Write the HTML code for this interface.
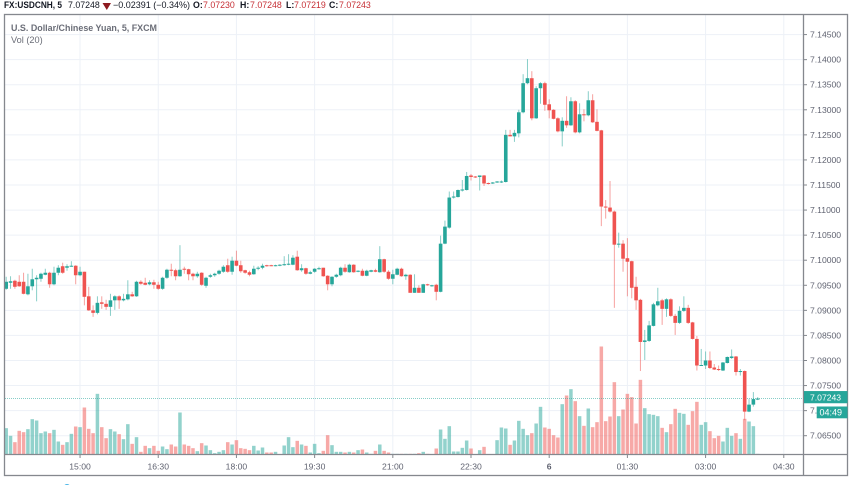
<!DOCTYPE html>
<html lang="en">
<head>
<meta charset="utf-8">
<title>USDCNH chart</title>
<style>
html,body{margin:0;padding:0;background:#fff;width:852px;height:485px;overflow:hidden}
svg{display:block;filter:blur(.35px)}
text{font-family:"Liberation Sans",sans-serif}
.tick{font-size:8.6px;fill:#5f6270}
.hd{font-size:8.8px;fill:#131722}
.hv{font-size:8.8px;fill:#c62f35}
</style>
</head>
<body>
<svg id="chart" width="852" height="485" viewBox="0 0 852 485" xmlns="http://www.w3.org/2000/svg">
  <defs><clipPath id="plot-clip"><rect x="5" y="15" width="798" height="439.5"/></clipPath></defs>
  <rect x="0" y="0" width="852" height="485" fill="#ffffff"/>
  <g id="grid"></g>
  <g id="vols" clip-path="url(#plot-clip)"></g>
  <line id="priceLine" x1="5" x2="803" stroke="#26a69a" stroke-width="1" stroke-dasharray="1 1" opacity=".55"/>
  <g id="candles" clip-path="url(#plot-clip)"></g>

  <g fill="none" stroke="#85888e" stroke-width="1.3">
    <rect x="4.5" y="14.5" width="843" height="461"/>
    <line x1="803.5" x2="803.5" y1="14.5" y2="475.5"/>
    <line x1="4.5" x2="847.5" y1="454.5" y2="454.5"/>
  </g>
  <g id="priceAxis"></g>
  <g id="timeAxis"></g>

  <g>
    <text class="hd" x="4" y="8" font-weight="bold" textLength="58" lengthAdjust="spacingAndGlyphs">FX:USDCNH, 5</text>
    <text class="hd" x="68" y="8">7.07248</text>
    <polygon points="102.5,3 111,3 106.8,10" fill="#8e1a1f"/>
    <text class="hd" x="113" y="8" textLength="77" lengthAdjust="spacingAndGlyphs">−0.02391 (−0.34%)</text>
    <text class="hd" x="193" y="8" font-weight="bold">O:</text>
    <text class="hv" x="203" y="8">7.07230</text>
    <text class="hd" x="240" y="8" font-weight="bold">H:</text>
    <text class="hv" x="250" y="8">7.07248</text>
    <text class="hd" x="286" y="8" font-weight="bold">L:</text>
    <text class="hv" x="294" y="8">7.07219</text>
    <text class="hd" x="329" y="8" font-weight="bold">C:</text>
    <text class="hv" x="339" y="8">7.07243</text>
  </g>

  <text x="11" y="31" font-size="9.2" font-weight="bold" fill="#6b6e78" textLength="146" lengthAdjust="spacingAndGlyphs">U.S. Dollar/Chinese Yuan, 5, FXCM</text>
  <text x="11" y="43" font-size="9.2" fill="#6b6e78">Vol (20)</text>

  <g>
    <rect id="priceBadge" x="804" width="43.5" height="12.2" fill="#26a69a"/>
    <text id="priceBadgeText" x="810" font-size="8.6" fill="#ffffff">7.07243</text>
  </g>
  <g>
    <rect x="816.7" y="406.5" width="30.8" height="11.8" fill="#26a69a"/>
    <text x="819.5" y="415.6" font-size="9" fill="#ffffff">04:49</text>
  </g>
  <circle cx="67" cy="487.5" r="3.5" fill="#45b4e6"/>
</svg>
<script>
const priceTicks = ["7.14500","7.14000","7.13500","7.13000","7.12500","7.12000","7.11500","7.11000","7.10500","7.10000","7.09500","7.09000","7.08500","7.08000","7.07500","7.07000","7.06500"];
const timeTicks = ["15:00","16:30","18:00","19:30","21:00","22:30","6","01:30","03:00","04:30"];
const timeTickBars = [17,35,53,71,89,107,125,143,161,179];
const lastPrice = 7.07243;

const opens = [7.0943,7.0955,7.0959,7.0957,7.0957,7.0932,7.0948,7.0962,7.0963,7.0971,
7.0975,7.0952,7.0975,7.0988,7.0985,7.0987,7.0989,7.0970,7.0977,7.0928,
7.0900,7.0895,7.0916,7.0913,7.0907,7.0920,7.0928,7.0920,7.0922,7.0932,
7.0928,7.0957,7.0955,7.0952,7.0956,7.0951,7.0943,7.0965,7.0981,7.0980,
7.0968,7.0983,7.0982,7.0973,7.0968,7.0975,7.0949,7.0967,7.0970,7.0973,
7.0977,7.0990,7.0977,7.0999,7.0990,7.0980,7.0976,7.0972,7.0983,7.0985,
7.0990,7.0990,7.0989,7.0989,7.0990,7.0991,7.0991,7.1007,7.0980,7.0984,
7.0973,7.0977,7.0982,7.0985,7.0969,7.0952,7.0967,7.0970,7.0985,7.0976,
7.0991,7.0977,7.0979,7.0969,7.0977,7.0980,7.0976,7.1002,7.0977,7.0963,
7.0971,7.0983,7.0968,7.0971,7.0935,7.0945,7.0935,7.0952,7.0948,7.0951,
7.0937,7.1033,7.1065,7.1125,7.1126,7.1139,7.1140,7.1169,7.1167,7.1166,
7.1169,7.1154,7.1153,7.1155,7.1155,7.1156,7.1250,7.1247,7.1253,7.1295,
7.1353,7.1363,7.1283,7.1343,7.1353,7.1311,7.1300,7.1283,7.1257,7.1278,
7.1269,7.1317,7.1255,7.1291,7.1289,7.1319,7.1276,7.1259,7.1107,7.1105,
7.1097,7.1031,7.1033,7.1004,7.0998,7.0947,7.0921,7.0837,7.0839,7.0869,
7.0910,7.0920,7.0903,7.0922,7.0889,7.0875,7.0899,7.0905,7.0876,7.0843,
7.0790,7.0790,7.0800,7.0786,7.0783,7.0780,7.0795,7.0805,7.0808,7.0777,
7.0779,7.0698,7.0712,7.0723];
const highs = [7.0967,7.0968,7.0961,7.0970,7.0975,7.0973,7.0983,7.0970,7.0975,7.0983,
7.0977,7.0987,7.0990,7.0995,7.0992,7.0998,7.0990,7.0987,7.0977,7.0947,
7.0910,7.0928,7.0928,7.0921,7.0933,7.0930,7.0930,7.0933,7.0960,7.0937,
7.0959,7.0960,7.0965,7.0960,7.0961,7.0957,7.0967,7.0983,7.0993,7.0983,
7.1030,7.0987,7.0983,7.0975,7.0977,7.0976,7.0967,7.0973,7.0975,7.0981,
7.0990,7.1003,7.1007,7.1019,7.0999,7.0981,7.0979,7.0989,7.0988,7.0993,
7.0991,7.0991,7.0991,7.0992,7.1008,7.1012,7.1010,7.1019,7.0992,7.0985,
7.0979,7.0984,7.0987,7.0985,7.0970,7.0968,7.0973,7.0987,7.0992,7.0993,
7.0992,7.0980,7.0983,7.0981,7.0981,7.0983,7.1028,7.1003,7.0980,7.0981,
7.0985,7.0985,7.0973,7.0972,7.0972,7.0950,7.0953,7.0953,7.0951,7.0953,
7.1049,7.1079,7.1137,7.1137,7.1141,7.1160,7.1176,7.1172,7.1168,7.1169,
7.1170,7.1155,7.1156,7.1158,7.1159,7.1260,7.1260,7.1260,7.1300,7.1371,
7.1401,7.1377,7.1347,7.1355,7.1356,7.1321,7.1301,7.1285,7.1285,7.1327,
7.1325,7.1319,7.1313,7.1301,7.1337,7.1331,7.1301,7.1260,7.1120,7.1158,
7.1099,7.1055,7.1040,7.1044,7.0999,7.0967,7.0923,7.0861,7.0879,7.0915,
7.0945,7.0923,7.0924,7.0924,7.0893,7.0908,7.0928,7.0911,7.0877,7.0849,
7.0823,7.0818,7.0818,7.0793,7.0790,7.0797,7.0808,7.0822,7.0809,7.0783,
7.0780,7.0723,7.0737,7.0727];
const lows = [7.0941,7.0943,7.0943,7.0947,7.0932,7.0930,7.0940,7.0918,7.0957,7.0970,
7.0945,7.0950,7.0970,7.0973,7.0979,7.0987,7.0952,7.0968,7.0910,7.0899,
7.0887,7.0892,7.0903,7.0901,7.0889,7.0901,7.0903,7.0918,7.0920,7.0927,
7.0927,7.0951,7.0950,7.0950,7.0943,7.0941,7.0941,7.0963,7.0968,7.0960,
7.0967,7.0973,7.0960,7.0960,7.0965,7.0949,7.0945,7.0965,7.0967,7.0971,
7.0975,7.0975,7.0971,7.0988,7.0975,7.0973,7.0968,7.0971,7.0980,7.0982,
7.0987,7.0988,7.0988,7.0988,7.0989,7.0990,7.0990,7.0979,7.0977,7.0971,
7.0972,7.0975,7.0981,7.0967,7.0940,7.0948,7.0965,7.0968,7.0975,7.0975,
7.0975,7.0976,7.0968,7.0968,7.0976,7.0976,7.0975,7.0975,7.0961,7.0952,
7.0970,7.0967,7.0961,7.0935,7.0935,7.0935,7.0935,7.0949,7.0947,7.0920,
7.0936,7.1032,7.1063,7.1123,7.1125,7.1137,7.1139,7.1159,7.1164,7.1139,
7.1148,7.1151,7.1152,7.1154,7.1154,7.1155,7.1247,7.1236,7.1245,7.1293,
7.1351,7.1279,7.1282,7.1312,7.1298,7.1283,7.1281,7.1255,7.1227,7.1264,
7.1268,7.1253,7.1253,7.1277,7.1287,7.1274,7.1257,7.1068,7.1083,7.1095,
7.0905,7.1025,7.0977,7.0928,7.0924,7.0901,7.0779,7.0801,7.0837,7.0868,
7.0908,7.0871,7.0887,7.0887,7.0851,7.0873,7.0897,7.0873,7.0842,7.0780,
7.0789,7.0783,7.0783,7.0781,7.0779,7.0779,7.0794,7.0803,7.0770,7.0770,
7.0681,7.0697,7.0708,7.0721];
const closes = [7.0957,7.0958,7.0947,7.0948,7.0933,7.0948,7.0962,7.0965,7.0973,7.0975,
7.0952,7.0975,7.0985,7.0975,7.0988,7.0989,7.0970,7.0977,7.0927,7.0900,
7.0895,7.0915,7.0913,7.0907,7.0920,7.0928,7.0920,7.0923,7.0932,7.0928,
7.0957,7.0953,7.0951,7.0956,7.0951,7.0943,7.0965,7.0981,7.0979,7.0968,
7.0981,7.0981,7.0972,7.0968,7.0973,7.0951,7.0965,7.0970,7.0973,7.0979,
7.0987,7.0977,7.0999,7.0989,7.0978,7.0975,7.0971,7.0983,7.0985,7.0989,
7.0989,7.0989,7.0990,7.0991,7.0992,7.0993,7.1005,7.0980,7.0984,7.0973,
7.0976,7.0983,7.0984,7.0968,7.0952,7.0967,7.0971,7.0985,7.0977,7.0991,
7.0976,7.0979,7.0969,7.0979,7.0980,7.0977,7.1002,7.0977,7.0963,7.0972,
7.0983,7.0968,7.0971,7.0935,7.0945,7.0935,7.0952,7.0950,7.0950,7.0937,
7.1033,7.1067,7.1125,7.1127,7.1140,7.1141,7.1168,7.1166,7.1165,7.1169,
7.1153,7.1152,7.1155,7.1157,7.1157,7.1250,7.1247,7.1254,7.1295,7.1353,
7.1363,7.1283,7.1343,7.1353,7.1310,7.1299,7.1282,7.1257,7.1278,7.1269,
7.1317,7.1255,7.1291,7.1289,7.1319,7.1275,7.1258,7.1107,7.1105,7.1097,
7.1031,7.1033,7.1003,7.0997,7.0945,7.0920,7.0837,7.0840,7.0870,7.0912,
7.0918,7.0903,7.0922,7.0889,7.0875,7.0899,7.0905,7.0875,7.0843,7.0790,
7.0791,7.0800,7.0785,7.0782,7.0781,7.0796,7.0807,7.0808,7.0777,7.0779,
7.0698,7.0712,7.0723,7.0724];
const volumes = [79,56,37,71,67,76,106,102,64,69,
64,74,39,29,37,62,84,82,141,77,
64,182,82,49,76,69,61,46,91,32,
52,8,26,19,26,11,24,16,30,24,
126,30,26,19,10,34,27,13,4,8,
13,37,30,43,19,17,13,26,12,21,
6,6,8,1,27,52,22,41,30,26,
6,32,4,11,58,28,8,8,6,8,
6,13,15,6,2,11,30,11,6,2,
2,2,2,2,2,4,8,2,1,18,
75,47,85,9,9,20,42,18,1,13,
23,1,1,43,81,78,29,42,101,77,
58,64,93,143,81,77,58,51,151,177,
196,160,115,86,138,82,97,324,100,114,
217,115,135,182,172,93,224,139,121,119,
115,80,67,91,137,125,122,89,130,158,
89,97,70,49,56,39,80,56,64,47,
107,99,85,2];

const SVGNS = 'http://www.w3.org/2000/svg';
const UP = '#26a69a';
const DOWN = '#ef5350';
function xScale(i){ return 6.2 + i * 4.344; }
function yScale(p){ return 435.7 - (p - 7.065) / 0.005 * 25.07; }
function volScale(v){ return v / 3; }
const VOL_BASE = 454.5;
function make(parent, tag, attrs){
  const el = document.createElementNS(SVGNS, tag);
  for (const k in attrs) el.setAttribute(k, attrs[k]);
  parent.appendChild(el);
  return el;
}
const grid = document.getElementById('grid');
const priceAxis = document.getElementById('priceAxis');
const timeAxis = document.getElementById('timeAxis');
const vols = document.getElementById('vols');
const candles = document.getElementById('candles');

priceTicks.forEach(function(t){
  const y = yScale(parseFloat(t));
  const g = make(grid, 'line', {x1:5, x2:803, y1:y, y2:y, stroke:'#edf1f7', 'stroke-width':1});
  
  
  const m = make(priceAxis, 'line', {x1:803.5, x2:807, y1:y, y2:y, stroke:'#85888e', 'stroke-width':1});
  
  
  const l = make(priceAxis, 'text', {x:810, y:y + 3, 'class':'tick'});
  l.textContent = t;
  
  
});

timeTicks.forEach(function(t, k){
  const x = xScale(timeTickBars[k]);
  const g = make(grid, 'line', {x1:x, x2:x, y1:15, y2:454, stroke:'#edf1f7', 'stroke-width':1});
  
  
  const m = make(timeAxis, 'line', {x1:x, x2:x, y1:454.5, y2:458, stroke:'#85888e', 'stroke-width':1});
  
  
  const attrs = {x:x, y:469.5, 'class':'tick', 'text-anchor':'middle'};
  if (t === '6') attrs['font-weight'] = 'bold';
  const l = make(timeAxis, 'text', attrs);
  l.textContent = t;
  
  
});

volumes.forEach(function(v, i){
  const h = volScale(v);
  const up = closes[i] >= opens[i];
  const r = make(vols, 'rect', {x:xScale(i) - 1.75, y:VOL_BASE - h, width:3.5, height:h, fill:up ? UP : DOWN, 'fill-opacity':0.5});
  
  
});

opens.forEach(function(o, i){
  const c = closes[i];
  const color = c >= o ? UP : DOWN;
  const x = xScale(i);
  const top = yScale(Math.max(o, c));
  const bot = yScale(Math.min(o, c));
  const wick = make(candles, 'line', {x1:x, x2:x, y1:yScale(highs[i]), y2:yScale(lows[i]), stroke:color, 'stroke-width':1, 'stroke-opacity':0.55});
  
  
  const body = make(candles, 'rect', {x:x - 1.8, y:top, width:3.6, height:Math.max(bot - top, 1), fill:color});
  
  
});

const lastY = yScale(lastPrice);
const pl = document.getElementById('priceLine');
pl.setAttribute('y1', lastY);
pl.setAttribute('y2', lastY);
document.getElementById('priceBadge').setAttribute('y', lastY - 7.4);
document.getElementById('priceBadgeText').setAttribute('y', lastY + 1.9);
</script>
</body>
</html>
